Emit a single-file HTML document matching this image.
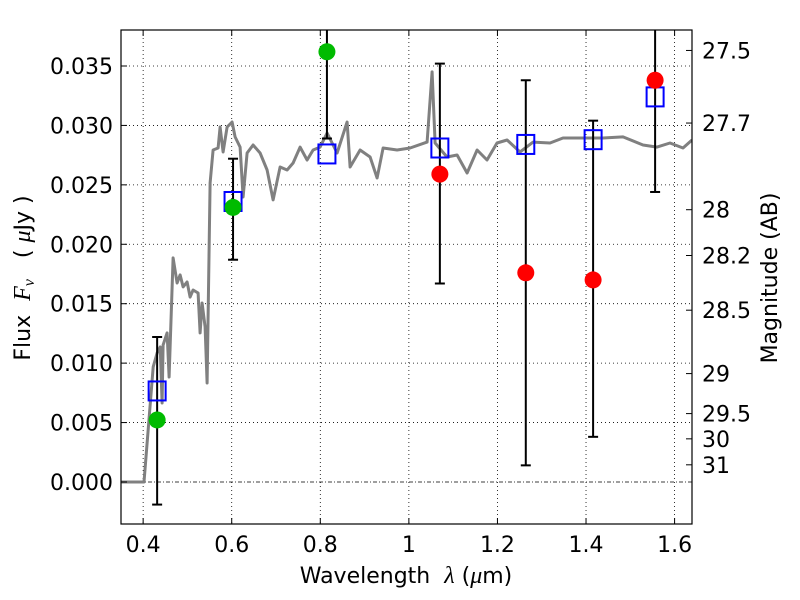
<!DOCTYPE html>
<html><head><meta charset="utf-8">
<style>
body{margin:0;background:#fff;}
svg{display:block;font-family:"DejaVu Sans","Liberation Sans",sans-serif;}
.pre{white-space:pre;}
</style></head>
<body>
<svg id="chart" width="800" height="600" viewBox="0 0 800 600" xmlns="http://www.w3.org/2000/svg"></svg>
<script>
const specLam=[0.350,0.402,0.4226,0.4316,0.4384,0.4429,0.4451,0.4542,0.4587,0.4677,0.4767,0.4835,0.4903,0.4993,0.5061,0.5129,0.5242,0.5287,0.5332,0.5400,0.5445,0.5512,0.5580,0.5693,0.5738,0.5806,0.5896,0.6009,0.6077,0.6190,0.6257,0.6348,0.6483,0.6641,0.6799,0.6935,0.7093,0.7251,0.7386,0.7544,0.7702,0.7837,0.7995,0.8153,0.8379,0.8605,0.8673,0.8898,0.9124,0.9282,0.9418,0.9734,1.0027,1.0411,1.0524,1.0592,1.0862,1.1088,1.1314,1.1540,1.1765,1.1991,1.2217,1.2510,1.2804,1.3187,1.3481,1.3932,1.4384,1.4835,1.5287,1.5603,1.5896,1.6190,1.6393];
const specFlux=[0,0,0.00968,0.01085,0.01136,0.00665,0.01153,0.01254,0.00883,0.01885,0.01674,0.01742,0.01641,0.01683,0.01556,0.01615,0.0159,0.01254,0.01506,0.01304,0.00833,0.02516,0.02793,0.0281,0.02987,0.02776,0.02987,0.03029,0.02903,0.02818,0.02398,0.02768,0.02835,0.02768,0.02625,0.02373,0.0265,0.02625,0.02684,0.02818,0.02709,0.02793,0.02818,0.02936,0.02768,0.03029,0.0265,0.02793,0.02734,0.02558,0.0281,0.02793,0.0281,0.0286,0.0345,0.02852,0.02734,0.02751,0.026,0.02793,0.02709,0.02852,0.02877,0.02776,0.0286,0.02852,0.02894,0.02894,0.02894,0.02903,0.02835,0.02818,0.02852,0.0281,0.02877];
const bandLam=[0.4316,0.603,0.815,1.070,1.264,1.416,1.556];
const modelFlux=[0.00766,0.0236,0.0276,0.0281,0.0284,0.0288,0.0324];
const obsFlux=[0.00522,0.0231,0.0362,0.0259,0.0176,0.0170,0.0338];
const obsColor=["#00bb00","#00bb00","#00bb00","#ff0000","#ff0000","#ff0000","#ff0000"];
const errLow=[-0.0019,0.0187,0.0289,0.0167,0.0014,0.0038,0.0244];
const errHigh=[0.0122,0.0272,0.0435,0.0352,0.0338,0.0304,0.0432];
const xTicks=[0.4,0.6,0.8,1.0,1.2,1.4,1.6];
const xTickLabels=["0.4","0.6","0.8","1","1.2","1.4","1.6"];
const yTicks=[0,0.005,0.010,0.015,0.020,0.025,0.030,0.035];
const yTickLabels=["0.000","0.005","0.010","0.015","0.020","0.025","0.030","0.035"];
const magTicks=[27.5,27.7,28,28.2,28.5,29,29.5,30,31];
const magTickLabels=["27.5","27.7","28","28.2","28.5","29","29.5","30","31"];

const L=121,R=692,T=30,B=524;
const xmin=0.35,xmax=1.6393,ymin=-0.003534,ymax=0.038028;
function X(v){return L+(v-xmin)/(xmax-xmin)*(R-L);}
function Y(v){return B-(v-ymin)/(ymax-ymin)*(B-T);}
function magToFlux(m){return Math.pow(10,(23.9-m)/2.5);}
const NS="http://www.w3.org/2000/svg";
const svg=document.getElementById('chart');
function mk(tag,attrs,parent){const e=document.createElementNS(NS,tag);for(const k in attrs)e.setAttribute(k,attrs[k]);(parent||svg).appendChild(e);return e;}

const defs=mk('clipPath',{id:'clip'});mk('rect',{x:L,y:T,width:R-L,height:B-T},defs);

xTicks.forEach((t,i)=>{
  const g=mk('line',{x1:X(t),x2:X(t),y1:T,y2:B,stroke:'#000','stroke-width':0.8,'stroke-dasharray':'1,3'});
  
  
});
yTicks.forEach((t,i)=>{
  const g=mk('line',{x1:L,x2:R,y1:Y(t),y2:Y(t),stroke:'#000','stroke-width':0.8,'stroke-dasharray':t===0?'4,2,1,2':'1,3'});
  
  
});

let d='';specLam.forEach((l,i)=>{d+=(i?'L':'M')+X(l).toFixed(1)+','+Y(specFlux[i]).toFixed(1);});
const sp=mk('path',{d:d,fill:'none',stroke:'#808080','stroke-width':3,'stroke-linejoin':'round','clip-path':'url(#clip)'});



bandLam.forEach((l,i)=>{
  const g=mk('g',{'clip-path':'url(#clip)'});
  
  
  const x=X(l);
  mk('line',{x1:x,x2:x,y1:Y(errLow[i]),y2:Y(errHigh[i]),stroke:'#000','stroke-width':2},g);
  mk('line',{x1:x-5,x2:x+5,y1:Y(errLow[i]),y2:Y(errLow[i]),stroke:'#000','stroke-width':2},g);
  mk('line',{x1:x-5,x2:x+5,y1:Y(errHigh[i]),y2:Y(errHigh[i]),stroke:'#000','stroke-width':2},g);
});
bandLam.forEach((l,i)=>{
  const r=mk('rect',{x:X(l)-8.5,y:Y(modelFlux[i])-9.5,width:17,height:19,fill:'none',stroke:'#0000ff','stroke-width':2});
  
  
});
bandLam.forEach((l,i)=>{
  const c=mk('circle',{cx:X(l),cy:Y(obsFlux[i]),r:8.5,fill:obsColor[i]});
  
  
});

const fr=mk('rect',{x:L,y:T,width:R-L,height:B-T,fill:'none',stroke:'#000','stroke-width':1.2});



xTicks.forEach((t,i)=>{
  mk('line',{x1:X(t),x2:X(t),y1:B,y2:B-6,stroke:'#000'});
  mk('line',{x1:X(t),x2:X(t),y1:T,y2:T+6,stroke:'#000'});
  const tx=mk('text',{x:X(t),y:B+28,'font-size':22,'text-anchor':'middle'});
  tx.textContent=xTickLabels[i];
  
  
});
yTicks.forEach((t,i)=>{
  mk('line',{x1:L,x2:L+6,y1:Y(t),y2:Y(t),stroke:'#000'});
  const tx=mk('text',{x:L-8,y:Y(t)+8,'font-size':22,'text-anchor':'end'});
  tx.textContent=yTickLabels[i];
  
  
});
magTicks.forEach((m,i)=>{
  const y=Y(magToFlux(m));
  mk('line',{x1:R,x2:R-6,y1:y,y2:y,stroke:'#000'});
  const tx=mk('text',{x:R+10,y:y+8,'font-size':22,'text-anchor':'start'});
  tx.textContent=magTickLabels[i];
  
  
});

const xl=mk('text',{x:406,y:583,'font-size':22,'text-anchor':'middle','class':'pre'});
xl.innerHTML='Wavelength  <tspan font-style="italic" font-family="Liberation Serif,serif" font-size="24">λ</tspan> (<tspan font-style="italic" font-family="Liberation Serif,serif" font-size="24">μ</tspan>m)';


const yl=mk('text',{x:0,y:0,'font-size':22,'text-anchor':'middle','class':'pre',transform:'translate(30,278) rotate(-90)'});
yl.innerHTML='Flux  <tspan font-style="italic" font-family="Liberation Serif,serif" font-size="24">F</tspan><tspan font-style="italic" font-family="Liberation Serif,serif" font-size="16" dy="4">ν</tspan><tspan dy="-4">   ( </tspan><tspan font-style="italic" font-family="Liberation Serif,serif" font-size="24">μ</tspan>Jy )';


const rl=mk('text',{x:0,y:0,'font-size':22,'text-anchor':'middle',transform:'translate(777,278) rotate(-90)'});
rl.textContent='Magnitude (AB)';


</script>
</body></html>
